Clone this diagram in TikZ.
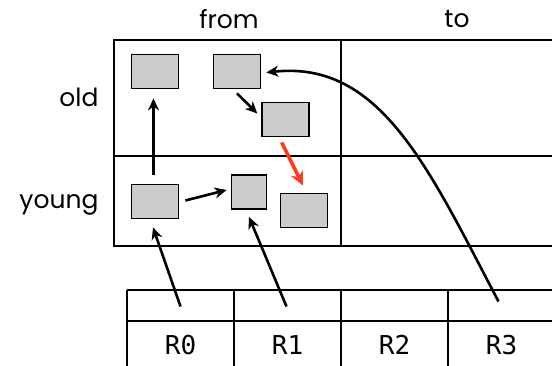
\documentclass[tikz,border=0pt]{standalone}
\usepackage{fontspec}
\setmainfont{Poppins}
\newfontfamily\monof{DejaVu Sans Mono}
\usetikzlibrary{arrows.meta,calc}
\definecolor{boxgray}{HTML}{CCCCCC}
\definecolor{redarr}{HTML}{FF3B1F}
\tikzset{
  obj/.style={draw=black, line width=1.8pt, fill=boxgray, inner sep=0pt, minimum width=47pt, minimum height=34pt},
  sobj/.style={obj, minimum width=35pt, minimum height=34pt},
  arr/.style={line width=2.6pt, -{Stealth[length=12pt,width=11pt]}},
  redarrow/.style={line width=3.6pt, draw=redarr, -{Stealth[length=14pt,width=13pt]}},
  grid/.style={line width=1.8pt},
  cell/.style={inner sep=0pt, minimum width=107pt, minimum height=31pt},
  lbl/.style={font=\fontsize{25}{30}\selectfont},
  rlbl/.style={font=\monof\fontsize{26}{30}\selectfont}
}
\begin{document}
\begin{tikzpicture}[x=1pt,y=-1pt]
\useasboundingbox (0,0) rectangle (552,365);
\clip (0,0) rectangle (552,365);
% grid of heap
\draw[grid] (114,40) rectangle (600,246);
\draw[grid] (341,40) -- (341,246);
\draw[grid] (114,156) -- (600,156);
% register table
\draw[grid] (127,290) -- (600,290);
\draw[grid] (127,321) -- (600,321);
\draw[grid] (127,290) -- (127,380);
\draw[grid] (234,290) -- (234,380);
\draw[grid] (341,290) -- (341,380);
\draw[grid] (448,290) -- (448,380);
% labels
\node[lbl] (from) at (229,19) {from};
\node[lbl] (to) at (457,19) {to};
\node[lbl, anchor=base east] (old) at (102,106.5) {old};
\node[lbl, anchor=base east] (young) at (102,208) {young};
% register cells
\node[cell] (r0t) at (180.5,305.5) {};
\node[cell] (r1t) at (287.5,305.5) {};
\node[cell] (r2t) at (394.5,305.5) {};
\node[cell] (r3t) at (501.5,305.5) {};
\node[rlbl, anchor=base] (r0) at (180.5,354) {R0};
\node[rlbl, anchor=base] (r1) at (287.5,354) {R1};
\node[rlbl, anchor=base] (r2) at (394.5,354) {R2};
\node[rlbl, anchor=base] (r3) at (501.5,354) {R3};
% objects
\node[obj] (A) at (155,71.5) {};
\node[obj] (B) at (237,71.5) {};
\node[obj] (C) at (285.7,119.5) {};
\node[obj] (D) at (155,201.5) {};
\node[sobj] (E) at (249,192) {};
\node[obj] (F) at (304,210.5) {};
% arrows
\draw[arr] ([shift={(-1.5,-9)}]D.north) -- ([shift={(-1.5,9)}]A.south);
\draw[arr] ([shift={(6,-1)}]D.east) -- ([shift={(-4,-2)}]E.west);
\draw[arr] ([shift={(0,4)}]B.south) -- ([shift={(-4,-6)}]C.west);
\draw[redarrow] ([shift={(-4,5)}]C.south) -- ([shift={(-1,-7)}]F.north);
\draw[arr] ([shift={(0,1)}]r0t.center) -- ([shift={(-2,8)}]D.south);
\draw[arr] ([shift={(-1,1)}]r1t.center) -- ([shift={(0,7)}]E.south);
\draw[arr] ([shift={(-3,-4)}]r3t.center) .. controls (428,167) and (380,60) .. ([shift={(5,1)}]B.east);
\end{tikzpicture}
\end{document}
